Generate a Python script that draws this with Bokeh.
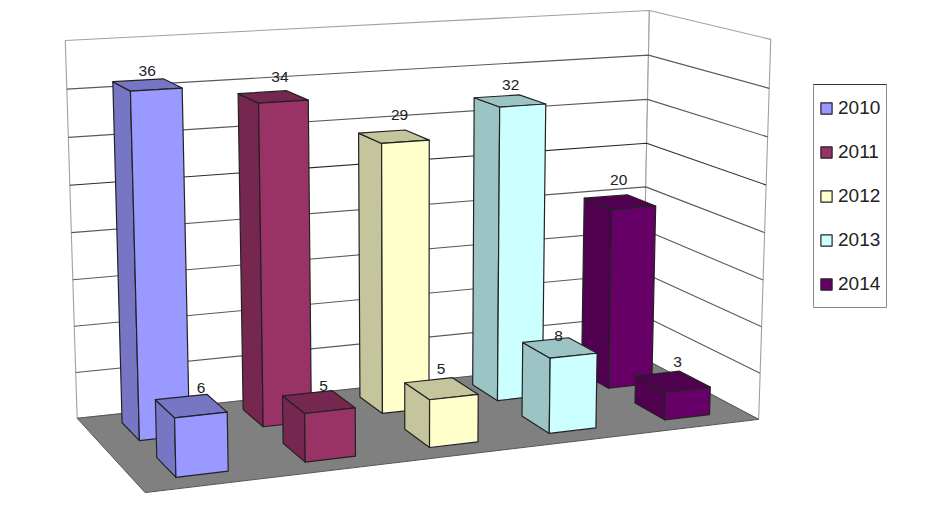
import numpy as np
from bokeh.plotting import figure
from bokeh.models import Range1d, Legend, LegendItem
from bokeh.core.properties import value
from bokeh.embed import file_html
from bokeh.resources import INLINE

years = ["2010", "2011", "2012", "2013", "2014"]
back_values = [36, 34, 29, 32, 20]
front_values = [6, 5, 5, 8, 3]
axis_max = 40
grid_levels = [5, 10, 15, 20, 25, 30, 35]
light = ["#9999ff", "#993366", "#ffffcc", "#ccffff", "#660066"]
dark = ["#7676c5", "#76274f", "#c4c49d", "#9dc4c4", "#4f004f"]
# label nudges in px from the top-face centre
back_nudge = [(0, -14), (7, -20), (6, -22), (1, -16), (-1, -22)]
front_nudge = [(10, -18), (5, -16), (0, -20), (-1, -12), (5, -20)]

W, H = 900, 500
corners = [((0, 0, 0), (144, 493)), ((1, 0, 0), (758, 417)), ((0, 1, 0), (77, 417)),
           ((1, 1, 0), (642, 359)), ((0, 1, 1), (65, 40)), ((1, 1, 1), (648, 9)),
           ((1, 0, 1), (771, 40))]
A, b = [], []
for (u, v, w), (x, y) in corners:
    A.append([u, v, w, 1, 0, 0, 0, 0, -x*u, -x*v, -x*w]); b.append(x)
    A.append([0, 0, 0, 0, u, v, w, 1, -y*u, -y*v, -y*w]); b.append(y)
m = np.linalg.lstsq(np.array(A, float), np.array(b, float), rcond=None)[0]
M = np.append(m, 1.0).reshape(3, 4)


def proj(u, v, val):
    q = M @ np.array([u, v, val / axis_max, 1.0])
    return q[0] / q[2], q[1] / q[2]


def face(pts):
    xy = [proj(*t) for t in pts]
    return [a for a, _ in xy], [c for _, c in xy]


p = figure(width=W, height=H, x_range=Range1d(0, W), y_range=Range1d(H, 0),
           toolbar_location=None, output_backend="svg", min_border=0, outline_line_color=None)
p.axis.visible = False
p.grid.visible = False

WALL = "#a0a0a0"
GRID = "#5a5a5a"
# walls
bx, by = face([(0, 1, 0), (1, 1, 0), (1, 1, axis_max), (0, 1, axis_max)])
p.patch(bx, by, fill_color="white", line_color=WALL, line_width=1.1)
rx, ry = face([(1, 1, 0), (1, 0, 0), (1, 0, axis_max), (1, 1, axis_max)])
p.patch(rx, ry, fill_color="white", line_color=WALL, line_width=1.1)
for g in grid_levels:
    col = "#2b2b2b" if g == 25 else GRID
    gx, gy = face([(0, 1, g), (1, 1, g), (1, 0, g)])
    p.line(gx, gy, line_color=col, line_width=1.1)
# floor
fx, fy = face([(0, 0, 0), (1, 0, 0), (1, 1, 0), (0, 1, 0)])
p.patch(fx, fy, fill_color="#808080", line_color="#555555", line_width=1)

DU = 0.04
rows = [(0.62, 0.875, back_values, 0.5), (0.13, 0.385, front_values, 0.505)]
legend_renderers = []
EDGE = "#222222"
for r, (v0, v1, vals, uoff) in enumerate(rows):
    for i, val in enumerate(vals):
        uc = (i + uoff) / 5
        u0, u1 = uc - DU, uc + DU
        lx, ly = face([(u0, v0, 0), (u0, v1, 0), (u0, v1, val), (u0, v0, val)])
        p.patch(lx, ly, fill_color=dark[i], line_color=EDGE, line_width=1.2, line_join="round")
        tx, ty = face([(u0, v0, val), (u0, v1, val), (u1, v1, val), (u1, v0, val)])
        p.patch(tx, ty, fill_color=dark[i], line_color=EDGE, line_width=1.2, line_join="round")
        sx, sy = face([(u0, v0, 0), (u1, v0, 0), (u1, v0, val), (u0, v0, val)])
        rend = p.patch(sx, sy, fill_color=light[i], line_color=EDGE, line_width=1.2, line_join="round")
        if r == 0:
            legend_renderers.append(rend)

lab_x, lab_y, lab_t = [], [], []
for (v0, v1, vals, uoff), nudges in zip(rows, (back_nudge, front_nudge)):
    for i, val in enumerate(vals):
        x, y = proj((i + uoff) / 5, (v0 + v1) / 2, val)
        lab_x.append(x + nudges[i][0]); lab_y.append(y + nudges[i][1]); lab_t.append(str(val))
p.text(lab_x, lab_y, text=lab_t, text_font=value("Liberation Sans"), text_font_size="15.5px",
       text_align="center", text_baseline="middle", text_color="#222222")

# legend frame
p.quad(left=[813], right=[886], top=[84], bottom=[307], fill_color="white", line_color="#8a8a8a", line_width=1)
p.line([813, 886], [84, 84], line_color="#333333", line_width=1)
legend = Legend(items=[LegendItem(label=y, renderers=[r]) for y, r in zip(years, legend_renderers)],
                location=(811, 192), glyph_width=14, glyph_height=14, label_height=32, spacing=12,
                label_standoff=5, padding=8, margin=0, background_fill_alpha=0, border_line_alpha=0,
                label_text_font="Liberation Sans", label_text_font_size="19px", label_text_color="#222222")
p.add_layout(legend)

open("out.html", "w").write(file_html(p, INLINE))
